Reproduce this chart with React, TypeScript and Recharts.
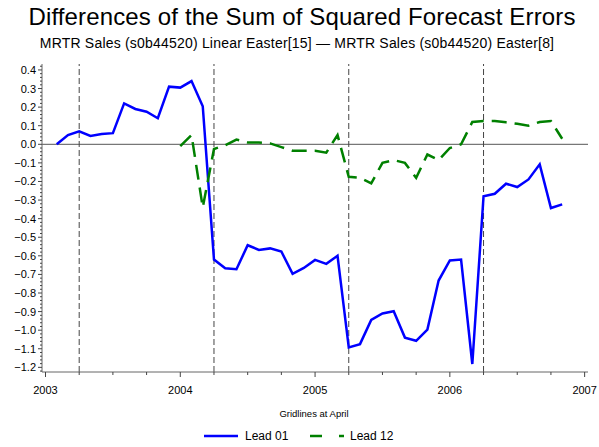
import React from 'react'
import { LineChart, Line, XAxis, YAxis, ReferenceLine } from 'recharts'

// months (YYYY-MM) for every observation
const months = [
  '2003-02', '2003-03', '2003-04', '2003-05', '2003-06', '2003-07', '2003-08', '2003-09', '2003-10', '2003-11', '2003-12',
  '2004-01', '2004-02', '2004-03', '2004-04', '2004-05', '2004-06', '2004-07', '2004-08', '2004-09', '2004-10', '2004-11', '2004-12',
  '2005-01', '2005-02', '2005-03', '2005-04', '2005-05', '2005-06', '2005-07', '2005-08', '2005-09', '2005-10', '2005-11', '2005-12',
  '2006-01', '2006-02', '2006-03', '2006-04', '2006-05', '2006-06', '2006-07', '2006-08', '2006-09', '2006-10', '2006-11',
]

const lead01 = [
  0.0, 0.05, 0.07, 0.045, 0.055, 0.06, 0.22, 0.19, 0.175, 0.14, 0.31,
  0.305, 0.34, 0.205, -0.62, -0.667, -0.672, -0.543, -0.568, -0.56, -0.577, -0.697, -0.665,
  -0.622, -0.643, -0.6, -1.093, -1.075, -0.945, -0.91, -0.898, -1.04, -1.057, -0.997, -0.733,
  -0.625, -0.62, -1.182, -0.279, -0.266, -0.212, -0.23, -0.189, -0.108, -0.343, -0.323,
]

const lead12 = [
  null, null, null, null, null, null, null, null, null, null, null,
  -0.01, 0.05, -0.34, -0.025, -0.005, 0.025, 0.01, 0.01, 0.005, -0.015, -0.035, -0.035,
  -0.035, -0.045, 0.05, -0.175, -0.18, -0.21, -0.1, -0.085, -0.1, -0.18, -0.055, -0.085,
  -0.02, 0.0, 0.12, 0.125, 0.125, 0.118, 0.11, 0.1, 0.12, 0.125, 0.03,
]

const yearTicks = [2003, 2004, 2005, 2006, 2007]
const yMajorTicks = [0.4, 0.3, 0.2, 0.1, 0.0, -0.1, -0.2, -0.3, -0.4, -0.5, -0.6, -0.7, -0.8, -0.9, -1.0, -1.1, -1.2]
const aprilLines = [2003.25, 2004.25, 2005.25, 2006.25]

const FONT = '"Liberation Sans", Arial, Helvetica, sans-serif'

const toYear = (m: string) => {
  const [y, mm] = m.split('-').map(Number)
  return y + (mm - 1) / 12
}

const data = months.map((m, i) => ({ t: toYear(m), lead01: lead01[i], lead12: lead12[i] }))

// minor ticks: quarters on x, 0.02 on y
const xTicks: number[] = []
for (let q = 0; q <= 16; q++) xTicks.push(2003 + q / 4)
const yTicks: number[] = []
for (let k = -61; k <= 21; k++) yTicks.push(Math.round(k * 2) / 100)

const isMajorY = (v: number) => yMajorTicks.some((t) => Math.abs(t - v) < 1e-6)
const fmtY = (v: number) => (v < 0 ? '\u2212' : '') + Math.abs(v).toFixed(1)

const YTick = ({ x, y, payload }: any) => {
  const major = isMajorY(payload.value)
  return (
    <g>
      <line x1={x - (major ? 4 : 2)} y1={y} x2={x} y2={y} stroke="#444" strokeWidth={1} />
      {major && (
        <text x={x - 6} y={y} dy={4} textAnchor="end" fontSize={11} fontFamily={FONT} fill="#000">
          {fmtY(payload.value)}
        </text>
      )}
    </g>
  )
}

const XTick = ({ x, y, payload }: any) => {
  const major = yearTicks.includes(payload.value)
  return (
    <g>
      <line x1={x} y1={y} x2={x} y2={y + (major ? 5 : 3)} stroke="#444" strokeWidth={1} />
      {major && (
        <text x={x} y={y + 22} textAnchor="middle" fontSize={11} fontFamily={FONT} fill="#000">
          {payload.value}
        </text>
      )}
    </g>
  )
}

export default function App() {
  return (
    <div style={{ position: 'absolute', left: 0, top: 0, width: 599, height: 447, background: '#fff' }}>
      <LineChart width={599} height={447} data={data} margin={{ top: 64, right: 11, bottom: 45, left: 0 }}>
        <XAxis
          dataKey="t"
          type="number"
          domain={[2002.974, 2007.025]}
          ticks={xTicks}
          interval={0}
          tick={<XTick />}
          tickLine={false}
          tickSize={0}
          tickMargin={0}
          height={30}
          axisLine={{ stroke: '#666' }}
          allowDataOverflow
        />
        <XAxis xAxisId="top" orientation="top" dataKey="t" type="number" domain={[2002.974, 2007.025]} height={0} tick={false} tickLine={false} axisLine={{ stroke: '#666' }} />
        <YAxis
          type="number"
          domain={[-1.225, 0.432]}
          ticks={yTicks}
          interval={0}
          tick={<YTick />}
          tickLine={false}
          tickSize={0}
          tickMargin={0}
          width={42}
          axisLine={{ stroke: '#666' }}
          allowDataOverflow
        />
        <YAxis yAxisId="right" orientation="right" domain={[-1.225, 0.432]} width={0} tick={false} tickLine={false} axisLine={{ stroke: '#666' }} />
        <ReferenceLine y={0} stroke="#555" strokeWidth={1} />
        {aprilLines.map((a) => (
          <ReferenceLine key={a} x={a} stroke="#444" strokeDasharray="6 3" strokeWidth={1} />
        ))}
        <Line type="linear" dataKey="lead01" stroke="#0000ff" strokeWidth={2.5} dot={false} isAnimationActive={false} />
        <Line type="linear" dataKey="lead12" stroke="#008000" strokeWidth={2.5} strokeDasharray="15 8" dot={false} isAnimationActive={false} />
      </LineChart>
      <svg width={599} height={447} style={{ position: 'absolute', left: 0, top: 0, pointerEvents: 'none' }}>
        <text x={302} y={25} textAnchor="middle" fontSize={24} letterSpacing={0.15} fontFamily={FONT} fill="#000">
          Differences of the Sum of Squared Forecast Errors
        </text>
        <text x={297} y={48} textAnchor="middle" fontSize={14} letterSpacing={0.2} fontFamily={FONT} fill="#000">
          MRTR Sales (s0b44520) Linear Easter[15] — MRTR Sales (s0b44520) Easter[8]
        </text>
        <text x={314} y={417} textAnchor="middle" fontSize={9.5} fontFamily={FONT} fill="#000">
          Gridlines at April
        </text>
        <line x1={204} y1={436} x2={238} y2={436} stroke="#0000ff" strokeWidth={2.5} />
        <text x={245} y={440} fontSize={12} fontFamily={FONT} fill="#000">Lead 01</text>
        <line x1={310} y1={436} x2={322} y2={436} stroke="#008000" strokeWidth={2.5} />
        <line x1={339} y1={436} x2={344} y2={436} stroke="#008000" strokeWidth={2.5} />
        <text x={350} y={440} fontSize={12} fontFamily={FONT} fill="#000">Lead 12</text>
      </svg>
    </div>
  )
}
